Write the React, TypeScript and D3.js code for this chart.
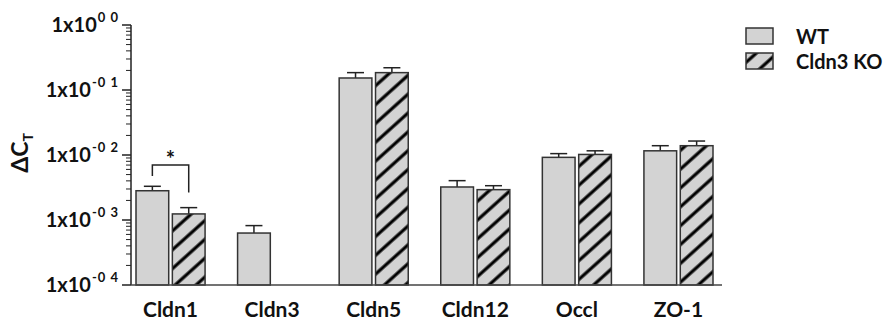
import React from 'react';
import * as d3 from 'd3';

const categories = ['Cldn1', 'Cldn3', 'Cldn5', 'Cldn12', 'Occl', 'ZO-1'];
const seriesNames = ['WT', 'Cldn3 KO'];
// mean values (null = not detected)
const wtValues = [2.82e-3, 6.3e-4, 0.153, 3.22e-3, 9.2e-3, 1.16e-2];
const koValues = [1.24e-3, null, 0.185, 2.93e-3, 1.02e-2, 1.39e-2];
// top of error bar (mean + SEM)
const wtErrTop = [3.3e-3, 8.2e-4, 0.185, 4.03e-3, 1.05e-2, 1.39e-2];
const koErrTop = [1.55e-3, null, 0.22, 3.37e-3, 1.16e-2, 1.64e-2];
const yTickExps = [0, -1, -2, -3, -4];

const W = 895;
const H = 322;
const FONT = 'Lato, "Open Sans", sans-serif';

export default function App() {
  const y = d3.scaleLog().domain([1e-4, 1]).range([285, 25]);
  const x = d3.scaleBand<string>().domain(categories).range([136, 713]).paddingInner(0.32).paddingOuter(0);
  const xs = d3.scaleBand<string>().domain(seriesNames).range([0, x.bandwidth()]).paddingInner(0.1);

  const axisX = 131;
  const axisEnd = 722;
  const baseY = y(1e-4);

  // minor ticks 2..9 in every decade
  const minor: number[] = [];
  for (let e = -4; e < 0; e++) {
    for (let m = 2; m <= 9; m++) minor.push(m * Math.pow(10, e));
  }

  const bars: { cat: string; s: string; v: number; err: number }[] = [];
  categories.forEach((c, i) => {
    if (wtValues[i] != null) bars.push({ cat: c, s: 'WT', v: wtValues[i] as number, err: wtErrTop[i] as number });
    if (koValues[i] != null) bars.push({ cat: c, s: 'Cldn3 KO', v: koValues[i] as number, err: koErrTop[i] as number });
  });

  const fmtSup = (e: number) => (e < 0 ? '-0 ' + Math.abs(e) : '0 0');

  const c1wt = (x('Cldn1') as number) + (xs('WT') as number) + xs.bandwidth() / 2;
  const c1ko = (x('Cldn1') as number) + (xs('Cldn3 KO') as number) + xs.bandwidth() / 2;

  return (
    <svg width={W} height={H} style={{ position: 'absolute', left: 0, top: 0, background: '#fff' }}>
      <defs>
        <pattern id="hatch" patternUnits="userSpaceOnUse" width="14" height="14" patternTransform="rotate(-42)">
          <rect width="14" height="14" fill="#d3d3d3" />
          <line x1="0" y1="7" x2="14" y2="7" stroke="#000" strokeWidth="3.2" />
        </pattern>
      </defs>

      {/* bars */}
      {bars.map((b, i) => {
        const bx = (x(b.cat) as number) + (xs(b.s) as number);
        const cx = bx + xs.bandwidth() / 2;
        return (
          <g key={i}>
            <line x1={cx} x2={cx} y1={y(b.v)} y2={y(b.err)} stroke="#222" strokeWidth={1.5} />
            <line x1={cx - 8.5} x2={cx + 8.5} y1={y(b.err)} y2={y(b.err)} stroke="#222" strokeWidth={1.5} />
            <rect
              x={bx}
              y={y(b.v)}
              width={xs.bandwidth()}
              height={baseY - y(b.v)}
              fill={b.s === 'WT' ? '#d3d3d3' : 'url(#hatch)'}
              stroke="#333"
              strokeWidth={1.5}
            />
          </g>
        );
      })}

      {/* y axis */}
      <line x1={axisX} x2={axisX} y1={y(1)} y2={baseY} stroke="#222" strokeWidth={1.5} />
      {minor.map((v, i) => (
        <line key={i} x1={axisX - 5} x2={axisX} y1={y(v)} y2={y(v)} stroke="#222" strokeWidth={1} />
      ))}
      {yTickExps.map((e) => {
        const ty = y(Math.pow(10, e));
        return (
          <g key={e}>
            <line x1={axisX - 9} x2={axisX} y1={ty} y2={ty} stroke="#222" strokeWidth={1.5} />
            <text x={axisX - 12} y={ty + 7} textAnchor="end" fontFamily={FONT} fontWeight="bold" fontSize={20} fill="#111">
              1x10
              <tspan dx={1} dy={-10} fontSize={13} letterSpacing={1}>{fmtSup(e)}</tspan>
            </text>
          </g>
        );
      })}

      {/* x axis */}
      <line x1={axisX} x2={axisEnd} y1={baseY} y2={baseY} stroke="#444" strokeWidth={1.5} />
      {categories.map((c) => (
        <text
          key={c}
          x={(x(c) as number) + x.bandwidth() / 2}
          y={317}
          textAnchor="middle"
          fontFamily={FONT}
          fontWeight="bold"
          fontSize={21}
          fill="#111"
        >
          {c}
        </text>
      ))}

      {/* y title */}
      <text
        transform="translate(28,153) rotate(-90)"
        textAnchor="middle"
        fontFamily={FONT}
        fontWeight="bold"
        fontSize={23}
        fill="#111"
      >
        ΔC<tspan dy={5} fontSize={14}>T</tspan>
      </text>

      {/* significance bracket */}
      <path
        d={`M${c1wt},176 V165 H${c1ko} V192.5`}
        fill="none"
        stroke="#222"
        strokeWidth={1.5}
      />
      <text x={(c1wt + c1ko) / 2} y={167} textAnchor="middle" fontFamily={FONT} fontWeight="bold" fontSize={22} fill="#111">
        *
      </text>

      {/* legend */}
      {seriesNames.map((s, i) => (
        <g key={s} transform={`translate(746,${28 + i * 25})`}>
          <rect x={0} y={0} width={27} height={16} fill={s === 'WT' ? '#d3d3d3' : 'url(#hatch)'} stroke="#333" strokeWidth={1.5} />
          <text x={50} y={16} fontFamily={FONT} fontWeight="bold" fontSize={20} fill="#111">
            {s}
          </text>
        </g>
      ))}
    </svg>
  );
}
